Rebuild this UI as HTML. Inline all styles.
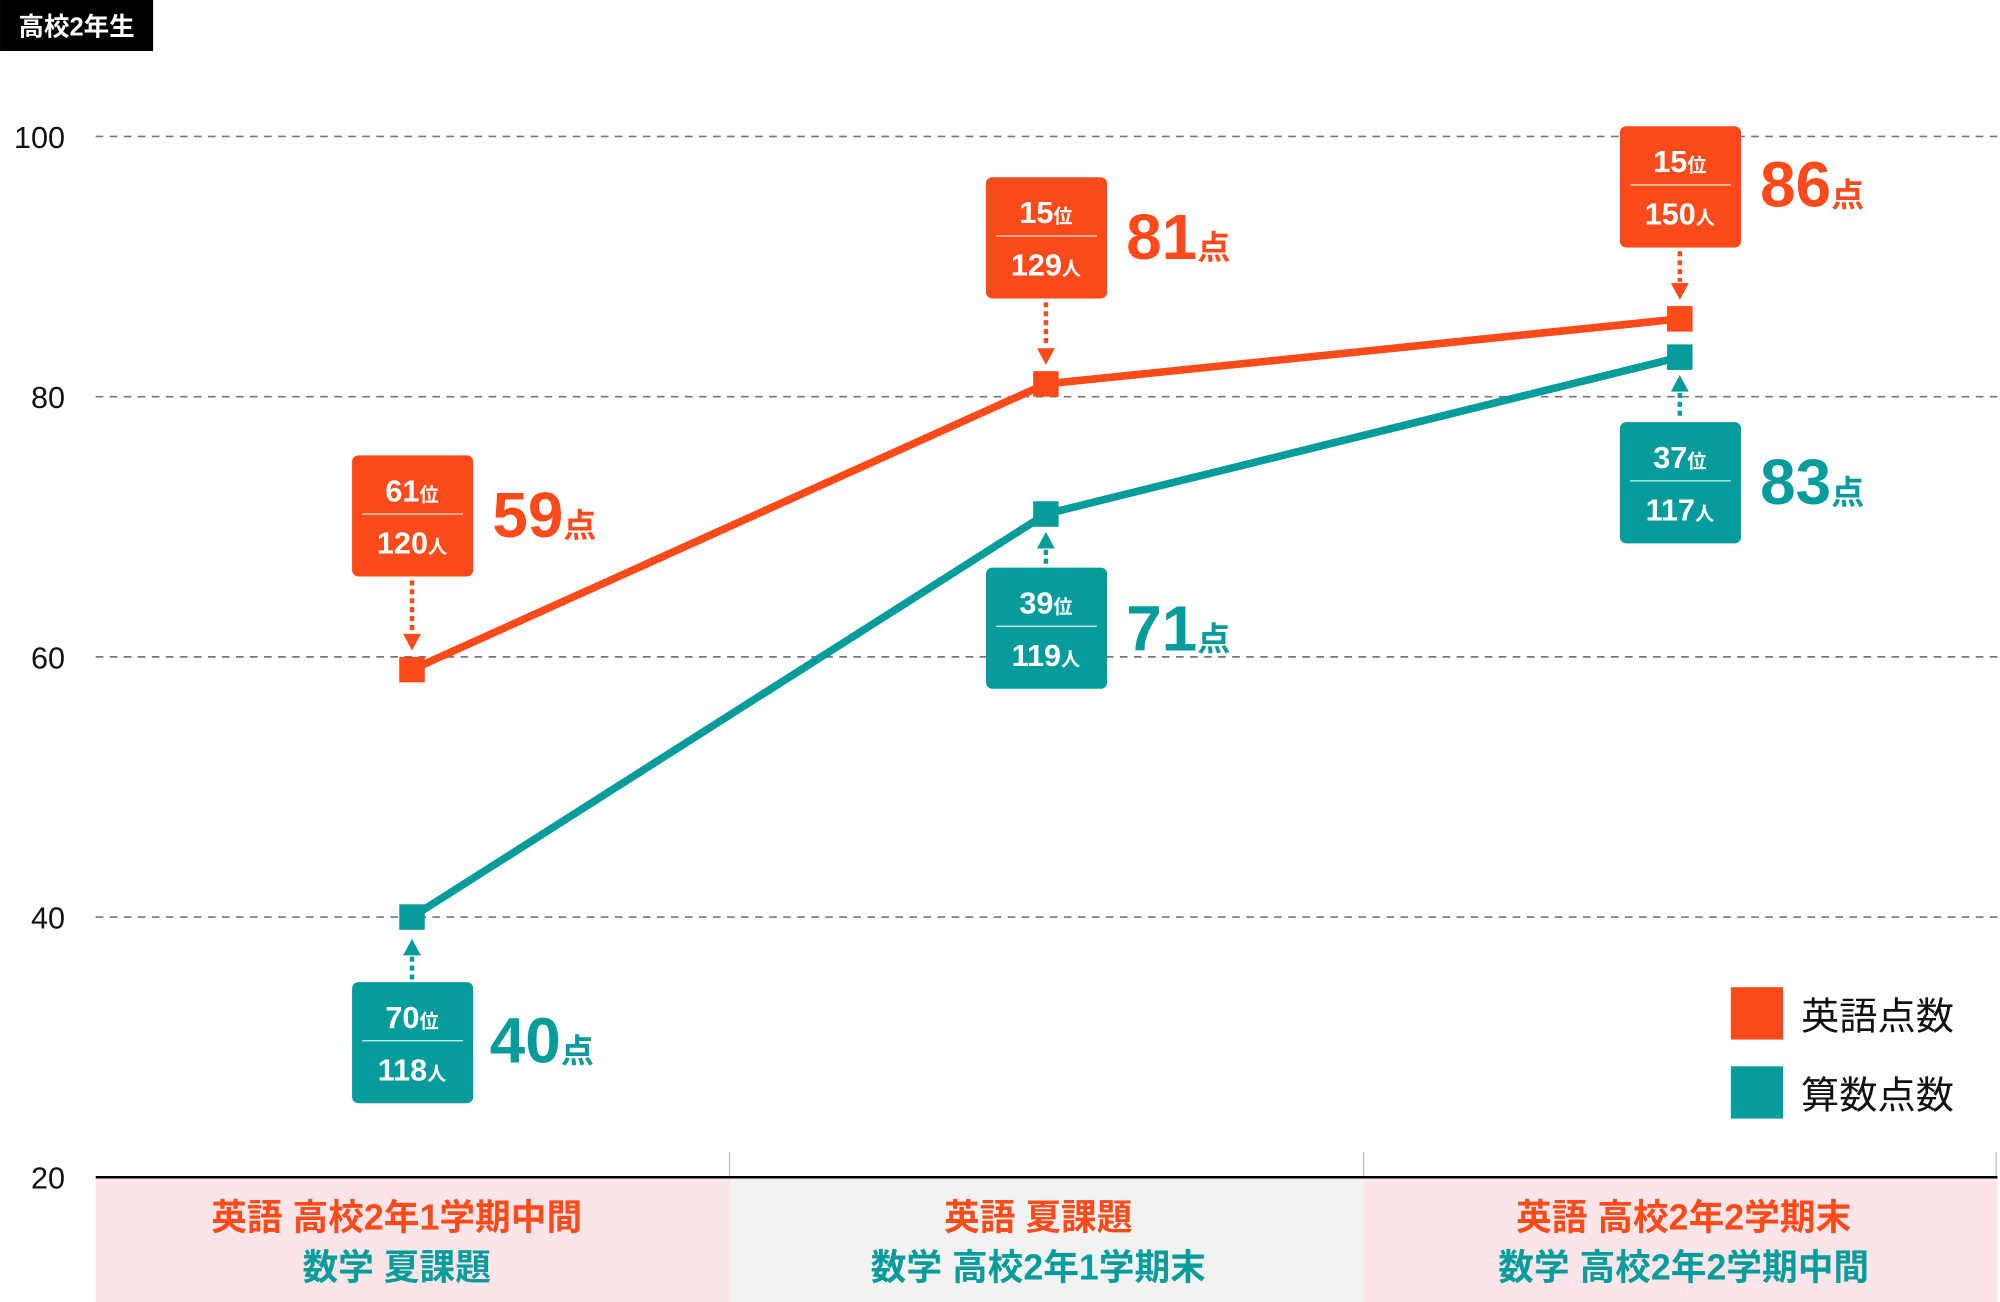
<!DOCTYPE html>
<html><head><meta charset="utf-8"><style>
html,body{margin:0;padding:0;background:#fff;}
svg{display:block;}
text{font-family:"Liberation Sans","Noto Sans CJK JP",sans-serif;}
</style></head><body>
<svg width="2000" height="1302" viewBox="0 0 1568 1020.8" xmlns="http://www.w3.org/2000/svg">
<rect x="0" y="0" width="120" height="40" fill="#000"/>
<text x="60" y="28" font-size="20" font-weight="bold" fill="#fff" text-anchor="middle">高校2年生</text>
<g font-size="24" fill="#111" text-anchor="end">
<text x="51" y="116">100</text><text x="51" y="320">80</text><text x="51" y="524">60</text><text x="51" y="728">40</text><text x="51" y="932">20</text>
</g>
<g stroke="#777" stroke-width="1.3" stroke-dasharray="6,5">
<line x1="75" y1="107" x2="1568" y2="107"/><line x1="75" y1="311" x2="1568" y2="311"/><line x1="75" y1="515" x2="1568" y2="515"/><line x1="75" y1="719" x2="1568" y2="719"/>
</g>
<rect x="75" y="923" width="497" height="98" fill="#fbe5e8"/>
<rect x="572" y="923" width="497" height="98" fill="#f3f2f1"/>
<rect x="1069" y="923" width="497" height="98" fill="#fbe5e8"/>
<g stroke="#bbb" stroke-width="1"><line x1="572" y1="903" x2="572" y2="923"/><line x1="1069" y1="903" x2="1069" y2="923"/><line x1="1565" y1="903" x2="1565" y2="923"/></g>
<line x1="75" y1="923" x2="1566" y2="923" stroke="#000" stroke-width="2"/>
<g font-size="28" font-weight="bold" text-anchor="middle">
<text x="311" y="964" fill="#fc4a1a">英語 高校2年1学期中間</text>
<text x="311" y="1003" fill="#069c9c">数学 夏課題</text>
<text x="814" y="964" fill="#fc4a1a">英語 夏課題</text>
<text x="814" y="1003" fill="#069c9c">数学 高校2年1学期末</text>
<text x="1320" y="964" fill="#fc4a1a">英語 高校2年2学期末</text>
<text x="1320" y="1003" fill="#069c9c">数学 高校2年2学期中間</text>
</g>
<polyline points="323,525 820,301 1317,250" fill="none" stroke="#fc4a1a" stroke-width="6"/>
<polyline points="323,719 820,403 1317,280" fill="none" stroke="#069c9c" stroke-width="6"/>
<g fill="#fc4a1a"><rect x="313" y="515" width="20" height="20"/><rect x="810" y="291" width="20" height="20"/><rect x="1307" y="240" width="20" height="20"/></g>
<g fill="#069c9c"><rect x="313" y="709" width="20" height="20"/><rect x="810" y="393" width="20" height="20"/><rect x="1307" y="270" width="20" height="20"/></g>
<g fill="#fc4a1a">
<rect x="276" y="357" width="95" height="95" rx="5"/><rect x="773" y="139" width="95" height="95" rx="5"/><rect x="1270" y="99" width="95" height="95" rx="5"/>
<polygon points="316,497 330,497 323,510"/><polygon points="813,273 827,273 820,286"/><polygon points="1310,222 1324,222 1317,235"/>
</g>
<g stroke="#fc4a1a" stroke-width="3.5" stroke-dasharray="4,3">
<line x1="323" y1="455" x2="323" y2="496"/><line x1="820" y1="237" x2="820" y2="272"/><line x1="1317" y1="197" x2="1317" y2="221"/>
</g>
<g fill="#069c9c">
<rect x="276" y="770" width="95" height="95" rx="5"/><rect x="773" y="445" width="95" height="95" rx="5"/><rect x="1270" y="331" width="95" height="95" rx="5"/>
<polygon points="316,749 330,749 323,736"/><polygon points="813,430 827,430 820,417"/><polygon points="1310,307 1324,307 1317,294"/>
</g>
<g stroke="#069c9c" stroke-width="3.5" stroke-dasharray="4,3">
<line x1="323" y1="750" x2="323" y2="768"/><line x1="820" y1="431" x2="820" y2="443"/><line x1="1317" y1="308" x2="1317" y2="329"/>
</g>
<g stroke="#fff" stroke-width="1" opacity="0.85">
<line x1="284" y1="403" x2="363" y2="403"/><line x1="781" y1="185" x2="860" y2="185"/><line x1="1278" y1="145" x2="1357" y2="145"/>
<line x1="284" y1="816" x2="363" y2="816"/><line x1="781" y1="491" x2="860" y2="491"/><line x1="1278" y1="377" x2="1357" y2="377"/>
</g>
<g fill="#fff" font-weight="bold" text-anchor="middle" font-size="24">
<text x="323" y="393">61<tspan font-size="15">位</tspan></text><text x="323" y="434">120<tspan font-size="15">人</tspan></text>
<text x="820" y="175">15<tspan font-size="15">位</tspan></text><text x="820" y="216">129<tspan font-size="15">人</tspan></text>
<text x="1317" y="135">15<tspan font-size="15">位</tspan></text><text x="1317" y="176">150<tspan font-size="15">人</tspan></text>
<text x="323" y="806">70<tspan font-size="15">位</tspan></text><text x="323" y="847">118<tspan font-size="15">人</tspan></text>
<text x="820" y="481">39<tspan font-size="15">位</tspan></text><text x="820" y="522">119<tspan font-size="15">人</tspan></text>
<text x="1317" y="367">37<tspan font-size="15">位</tspan></text><text x="1317" y="408">117<tspan font-size="15">人</tspan></text>
</g>
<g font-weight="bold" font-size="50">
<text x="386" y="421" fill="#fc4a1a">59<tspan font-size="26">点</tspan></text>
<text x="883" y="203" fill="#fc4a1a">81<tspan font-size="26">点</tspan></text>
<text x="1380" y="162" fill="#fc4a1a">86<tspan font-size="26">点</tspan></text>
<text x="384" y="833" fill="#069c9c">40<tspan font-size="26">点</tspan></text>
<text x="883" y="510" fill="#069c9c">71<tspan font-size="26">点</tspan></text>
<text x="1380" y="395" fill="#069c9c">83<tspan font-size="26">点</tspan></text>
</g>
<rect x="1357" y="774" width="41" height="41" fill="#fc4a1a"/>
<rect x="1357" y="836" width="41" height="41" fill="#069c9c"/>
<text x="1412" y="807" font-size="30" fill="#111">英語点数</text>
<text x="1412" y="869" font-size="30" fill="#111">算数点数</text>
</svg>
</body></html>
